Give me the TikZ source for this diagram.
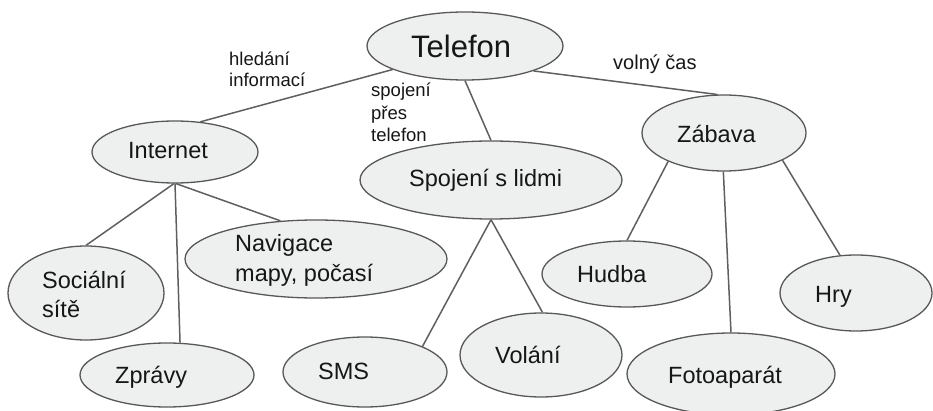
\documentclass[tikz,border=0pt]{standalone}
\usepackage{fontspec}
\setmainfont{Liberation Sans}
\usetikzlibrary{shapes.geometric}
\definecolor{bubfill}{RGB}{238,239,239}
\definecolor{bubline}{RGB}{88,88,88}
\definecolor{linkcol}{RGB}{95,95,95}
\definecolor{textcol}{RGB}{22,22,22}
\tikzset{
  bub/.style 2 args={ellipse, draw=bubline, fill=bubfill, line width=1.3pt,
    minimum width=#1pt, minimum height=#2pt, inner sep=0pt},
  link/.style={draw=linkcol, line width=1.5pt},
  txt/.style={anchor=base west, inner sep=0pt, text=textcol,
    font=\fontsize{23.5}{29}\selectfont},
  bigtxt/.style={txt, font=\fontsize{31}{36}\selectfont},
  lbl/.style={txt, align=left, font=\fontsize{18.5}{21.5}\selectfont},
}
\begin{document}
\begin{tikzpicture}[x=1pt, y=-1pt]
\useasboundingbox (0,0) rectangle (933,411);
\clip (0,0) rectangle (933,411);

% bubbles
\node[bub={196}{68}]  (tel) at (465,46)  {};
\node[bub={166}{62}]  (int) at (175,152) {};
\node[bub={156}{94}]  (soc) at (86,293)  {};
\node[bub={174}{64}]  (zpr) at (167,375) {};
\node[bub={262}{78}]  (nav) at (316,259) {};
\node[bub={262}{78}]  (spo) at (491,180) {};
\node[bub={164}{70}]  (sms) at (365,372) {};
\node[bub={162}{84}]  (vol) at (541,355) {};
\node[bub={164}{76}]  (zab) at (724,133) {};
\node[bub={170}{66}]  (hud) at (627,274) {};
\node[bub={152}{76}]  (hry) at (856,293) {};
\node[bub={208}{82}]  (fot) at (731,374) {};

% texts inside the bubbles
\node[bigtxt] (tel-t) at (411,58) {Telefon};
\node[txt] (int-t) at (128,159) {Internet};
\node[txt] (soc-t1) at (42,288) {Sociální};
\node[txt] (soc-t2) at (42,317) {sítě};
\node[txt] (zpr-t) at (115,383) {Zprávy};
\node[txt] (nav-t1) at (235,252) {Navigace};
\node[txt] (nav-t2) at (235,282) {mapy, počasí};
\node[txt] (spo-t) at (409,187) {Spojení s lidmi};
\node[txt] (sms-t) at (318,379) {SMS};
\node[txt] (vol-t) at (495,363) {Volání};
\node[txt] (zab-t) at (677,143) {Zábava};
\node[txt] (hud-t) at (577,283) {Hudba};
\node[txt] (hry-t) at (815,302) {Hry};
\node[txt] (fot-t) at (668,383) {Fotoaparát};

% connectors
\draw[link] (tel.198) -- (int.50);
\draw[link] (tel.270) -- (spo.90);
\draw[link] (tel.340) -- (zab.100);
\draw[link] (int.268) -- (soc.90);
\draw[link] (int.270) -- (zpr.68);
\draw[link] (int.272) -- (nav.133);
\draw[link] (spo.270) -- (sms.24);
\draw[link] (spo.270) -- (vol.88);
\draw[link] (zab.207) -- (hud.90);
\draw[link] (zab.269) -- (fot.90);
\draw[link] (zab.335) -- (hry.113);

% connector labels (base anchor sits on the last line)
\node[lbl] (l-hled) at (229,87) {hledání\\informací};
\node[lbl, font=\fontsize{18.5}{22.5}\selectfont] (l-spoj) at (371,142) {spojení\\přes\\telefon};
\node[lbl, font=\fontsize{20}{24}\selectfont] (l-vol) at (613,70) {volný čas};
\end{tikzpicture}
\end{document}
